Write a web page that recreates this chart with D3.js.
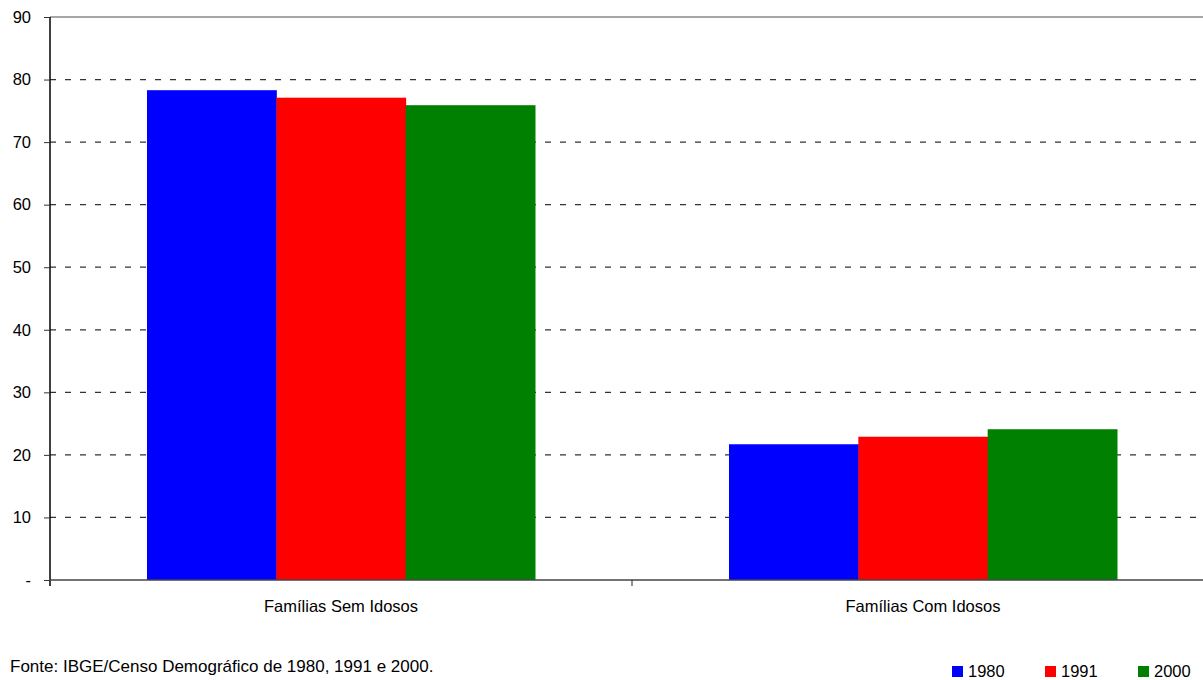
<!DOCTYPE html>
<html>
<head>
<meta charset="utf-8">
<script src="https://cdn.jsdelivr.net/npm/d3@7"></script>
<style>
  body { margin: 0; background: #fff; }
  text { font-family: "Liberation Sans", Arial, sans-serif; fill: #000; }
</style>
</head>
<body>
<script>
// data
var categories = ["Famílias Sem Idosos", "Famílias Com Idosos"];
var years = ["1980", "1991", "2000"];
var values1980 = [78.3, 21.7];
var values1991 = [77.1, 22.9];
var values2000 = [75.9, 24.1];
var yTicks = [0, 10, 20, 30, 40, 50, 60, 70, 80, 90];
var colors = ["#0000ff", "#ff0000", "#008000"];
var fonte = "Fonte: IBGE/Censo Demográfico de 1980, 1991 e 2000.";

var series = [values1980, values1991, values2000];

var w = 1203, h = 680;
var mLeft = 50, mTop = 17, mBottom = 580, mRight = 1214;

var svg = d3.select("body").append("svg")
  .attr("width", w)
  .attr("height", h);

var y = d3.scaleLinear().domain([0, 90]).range([mBottom, mTop]);
var x0 = d3.scaleBand().domain(categories).range([mLeft, mRight]).padding(0);
var x1 = d3.scaleBand().domain(years).range([0, x0.bandwidth()])
  .paddingInner(0).paddingOuter(0.75);

// grid lines
svg.append("g").selectAll("line")
  .data(yTicks.filter(function(d){ return d > 0 && d < 90; }))
  .enter().append("line")
  .attr("x1", mLeft).attr("x2", w)
  .attr("y1", function(d){ return y(d); })
  .attr("y2", function(d){ return y(d); })
  .attr("stroke", "#333")
  .attr("stroke-width", 1.2)
  .attr("stroke-dasharray", "6,9");

// top border
svg.append("line")
  .attr("x1", mLeft).attr("x2", w)
  .attr("y1", y(90)).attr("y2", y(90))
  .attr("stroke", "#888").attr("stroke-width", 1.5);

// bars
var groups = svg.append("g").selectAll("g")
  .data(categories)
  .enter().append("g")
  .attr("transform", function(d){ return "translate(" + x0(d) + ",0)"; });

groups.selectAll("rect")
  .data(function(d, ci){ return years.map(function(yr, si){ return {year: yr, v: series[si][ci], i: si}; }); })
  .enter().append("rect")
  .attr("x", function(d){ return x1(d.year); })
  .attr("width", x1.bandwidth() + 0.5)
  .attr("y", function(d){ return y(d.v); })
  .attr("height", function(d){ return y(0) - y(d.v); })
  .attr("fill", function(d){ return colors[d.i]; });

// y axis
var yAxis = d3.axisLeft(y)
  .tickValues(yTicks)
  .tickSize(6)
  .tickPadding(13)
  .tickFormat(function(d){ return d === 0 ? "-" : d; });

var gy = svg.append("g")
  .attr("transform", "translate(" + mLeft + ",0)")
  .call(yAxis);
gy.select(".domain").attr("stroke", "#000").attr("stroke-width", 1.5)
  .attr("d", "M0," + mTop + "V" + (mBottom + 6));
gy.selectAll(".tick line").attr("stroke", "#333");
gy.selectAll(".tick text")
  .style("font-size", "16.5px")
  .style("font-family", "'Liberation Sans', Arial, sans-serif")
  .attr("fill", "#000");

// x axis
svg.append("line")
  .attr("x1", mLeft).attr("x2", w)
  .attr("y1", mBottom).attr("y2", mBottom)
  .attr("stroke", "#444").attr("stroke-width", 1.5);

svg.append("g").selectAll("line")
  .data(categories.slice(1))
  .enter().append("line")
  .attr("x1", function(d){ return x0(d); })
  .attr("x2", function(d){ return x0(d); })
  .attr("y1", mBottom).attr("y2", mBottom + 6)
  .attr("stroke", "#222").attr("stroke-width", 1);

svg.append("g").selectAll("text")
  .data(categories)
  .enter().append("text")
  .attr("x", function(d){ return x0(d) + x0.bandwidth() / 2; })
  .attr("y", 612)
  .attr("text-anchor", "middle")
  .style("font-size", "16.5px")
  .text(function(d){ return d; });

// source
svg.append("text")
  .attr("x", 10).attr("y", 672)
  .style("font-size", "17px")
  .text(fonte);

// legend
var legX = [952, 1045, 1138];
var leg = svg.append("g").selectAll("g")
  .data(years)
  .enter().append("g")
  .attr("transform", function(d, i){ return "translate(" + legX[i] + ",666)"; });
leg.append("rect")
  .attr("width", 11).attr("height", 11)
  .attr("fill", function(d, i){ return colors[i]; });
leg.append("text")
  .attr("x", 16).attr("y", 11)
  .style("font-size", "16.5px")
  .text(function(d){ return d; });
</script>
</body>
</html>
